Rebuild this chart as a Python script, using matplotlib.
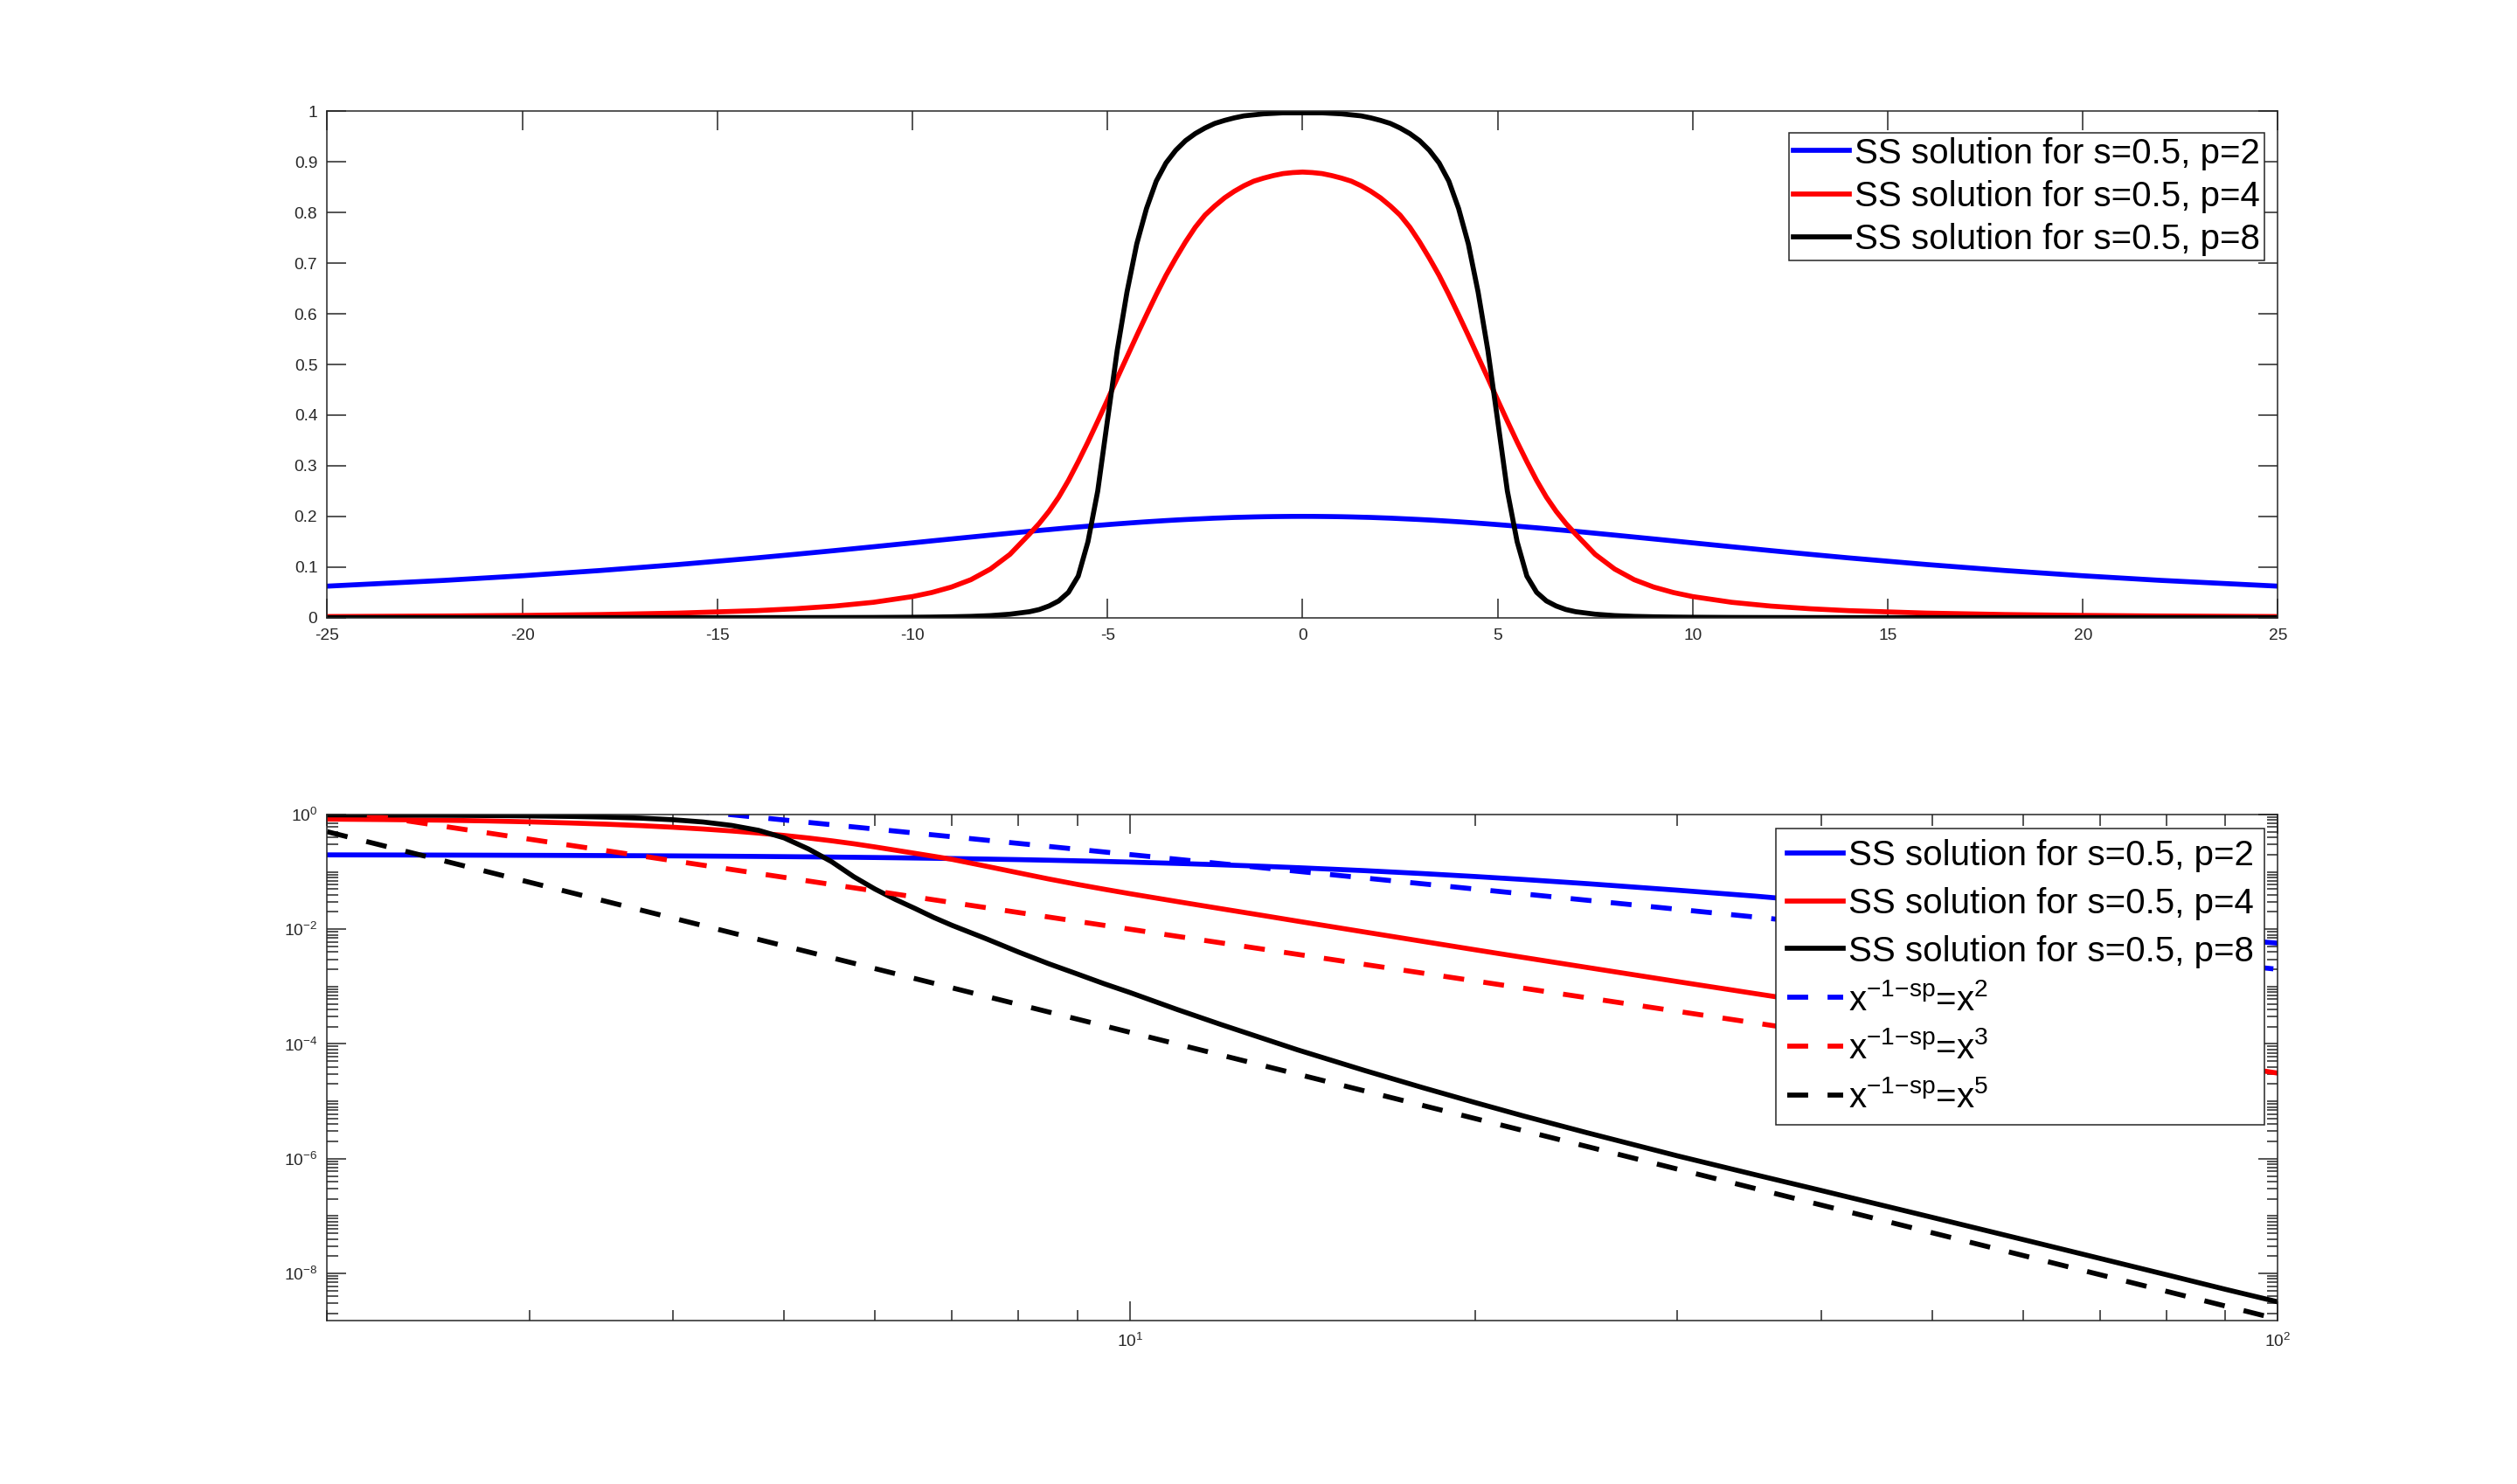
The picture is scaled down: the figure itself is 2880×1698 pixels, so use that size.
import matplotlib
matplotlib.use('Agg')
import matplotlib.pyplot as plt
from matplotlib.ticker import FixedLocator, LogLocator, NullFormatter

plt.rcParams['font.family'] = ['Liberation Sans', 'DejaVu Sans']
plt.rcParams['mathtext.fontset'] = 'custom'
plt.rcParams['mathtext.rm'] = 'Liberation Sans'
plt.rcParams['mathtext.it'] = 'Liberation Sans'
plt.rcParams['axes.unicode_minus'] = False

# positive half of the grid (solutions are even in x)
x_pos = [0, 0.25, 0.5, 0.75, 1, 1.25, 1.5, 1.75, 2, 2.25, 2.5, 2.75, 3, 3.25,
         3.5, 3.75, 4, 4.25, 4.5, 4.75, 5, 5.25, 5.5, 5.75, 6, 6.25, 6.5, 6.75,
         7, 7.5, 8, 8.5, 9, 9.5, 10, 11, 12, 13, 14, 16, 18, 20, 22, 25, 30,
         35, 40, 50, 60, 70, 80, 90, 100]

u_p2 = [0.2000, 0.19996, 0.1998, 0.1996, 0.1993, 0.1989, 0.1984, 0.1979, 0.1972,
        0.1965, 0.1956, 0.1947, 0.1938, 0.1928, 0.1917, 0.1905, 0.1893, 0.1880,
        0.1866, 0.1852, 0.1837, 0.1822, 0.1806, 0.1790, 0.1774, 0.1757, 0.1739,
        0.1722, 0.1704, 0.1667, 0.1630, 0.1592, 0.1554, 0.1516, 0.1477, 0.1400,
        0.1324, 0.1251, 0.1180, 0.1049, 0.0931, 0.0827, 0.0736, 0.0622, 0.0478,
        0.0378, 0.0300, 0.0204, 0.0145, 0.0110, 0.0085, 0.0068, 0.0057]

u_p4 = [0.880, 0.879, 0.877, 0.873, 0.868, 0.862, 0.853, 0.842, 0.829, 0.813,
        0.795, 0.771, 0.742, 0.710, 0.676, 0.638, 0.598, 0.557, 0.515, 0.473,
        0.430, 0.388, 0.347, 0.308, 0.271, 0.238, 0.210, 0.186, 0.165, 0.125,
        0.096, 0.075, 0.0604, 0.0497, 0.0416, 0.0303, 0.0228, 0.0176, 0.0138,
        0.00896, 0.00613, 0.00437, 0.00323, 0.00216, 0.00122, 7.58e-4, 5.03e-4,
        2.54e-4, 1.46e-4, 9.1e-5, 6.08e-5, 4.26e-5, 3.1e-5]

u_p8 = [0.997, 0.997, 0.997, 0.996, 0.995, 0.993, 0.991, 0.987, 0.982, 0.976,
        0.967, 0.956, 0.942, 0.923, 0.898, 0.862, 0.808, 0.738, 0.643, 0.528,
        0.390, 0.250, 0.150, 0.082, 0.050, 0.033, 0.023, 0.016, 0.0117, 6.8e-3,
        4.0e-3, 2.5e-3, 1.66e-3, 1.12e-3, 7.9e-4, 3.98e-4, 2.19e-4, 1.29e-4,
        7.9e-5, 3.47e-5, 1.73e-5, 9.5e-6, 5.6e-6, 2.85e-6, 1.12e-6, 5.3e-7,
        2.8e-7, 9.5e-8, 3.9e-8, 1.83e-8, 9.5e-9, 5.3e-9, 3.2e-9]

# reference power laws x^(-1-sp)
dash_x = [2, 100]
dash_p2 = [5.0, 2.0e-3]
dash_p4 = [1.25, 1.0e-5]
dash_p8 = [0.5, 1.6e-9]

labels_ss = ['SS solution for s=0.5, p=2', 'SS solution for s=0.5, p=4',
             'SS solution for s=0.5, p=8']
labels_tail = [r'x$^{\mathregular{-1{-}sp}}$=x$^{\mathregular{2}}$',
               r'x$^{\mathregular{-1{-}sp}}$=x$^{\mathregular{3}}$',
               r'x$^{\mathregular{-1{-}sp}}$=x$^{\mathregular{5}}$']

top_xticks = [-25, -20, -15, -10, -5, 0, 5, 10, 15, 20, 25]
top_yticks = [0, 0.1, 0.2, 0.3, 0.4, 0.5, 0.6, 0.7, 0.8, 0.9, 1]
top_ylabels = ['0', '0.1', '0.2', '0.3', '0.4', '0.5', '0.6', '0.7', '0.8', '0.9', '1']
bot_yticks = [1e-8, 1e-6, 1e-4, 1e-2, 1]
bot_xticks = [10, 100]

colors = ['#0000ff', '#ff0000', '#000000']
curves = [u_p2, u_p4, u_p8]
dashes = [dash_p2, dash_p4, dash_p8]

# mirror the positive half for the symmetric top panel
keep = [i for i, v in enumerate(x_pos) if v <= 25]
x_full = [-x_pos[i] for i in reversed(keep[1:])] + [x_pos[i] for i in keep]

fig = plt.figure(figsize=(14.4, 8.49), dpi=200)
ax1 = fig.add_axes([0.13, 0.5838, 0.775, 0.3412])
ax2 = fig.add_axes([0.13, 0.11, 0.775, 0.3412])

lw = 2.05
gray = '0.15'

for u, c, lab in zip(curves, colors, labels_ss):
    y_full = [u[i] for i in reversed(keep[1:])] + [u[i] for i in keep]
    ax1.plot(x_full, y_full, color=c, lw=lw, label=lab)

ax1.set_xlim(-25, 25)
ax1.set_ylim(0, 1)
ax1.set_xticks(top_xticks)
ax1.set_xticklabels([str(t) for t in top_xticks])
ax1.set_yticks(top_yticks)
ax1.set_yticklabels(top_ylabels)

for u, c, lab in zip(curves, colors, labels_ss):
    ax2.plot(x_pos[1:], u[1:], color=c, lw=lw, label=lab)
for d, c, lab in zip(dashes, colors, labels_tail):
    ax2.plot(dash_x, d, color=c, lw=lw, ls=(0, (4.2, 3.9)), label=lab)

ax2.set_xscale('log')
ax2.set_yscale('log')
ax2.set_xlim(2, 100)
ax2.set_ylim(1.5e-9, 1)
ax2.xaxis.set_major_locator(FixedLocator(bot_xticks))
ax2.xaxis.set_minor_locator(LogLocator(base=10, subs=[2, 3, 4, 5, 6, 7, 8, 9]))
ax2.xaxis.set_minor_formatter(NullFormatter())
ax2.yaxis.set_major_locator(FixedLocator(bot_yticks))
ax2.yaxis.set_minor_locator(LogLocator(base=10, subs=[1, 2, 3, 4, 5, 6, 7, 8, 9], numticks=30))
ax2.yaxis.set_minor_formatter(NullFormatter())

for ax in (ax1, ax2):
    for s in ax.spines.values():
        s.set_color(gray)
        s.set_linewidth(0.55)
    ax.tick_params(which='both', direction='in', top=True, right=True,
                   colors=gray, width=0.55, labelsize=6.9)
    ax.tick_params(which='major', length=7.9)
    ax.tick_params(which='minor', length=4.5)
    ax.tick_params(axis='y', pad=4)
ax1.tick_params(axis='x', pad=4.5)
ax2.tick_params(axis='x', pad=5.0)

leg_kw = dict(loc='upper right', fontsize=14.5, borderaxespad=0,
              handlelength=1.6, handletextpad=0.15,
              fancybox=False, framealpha=1, edgecolor=gray)
l1 = ax1.legend(bbox_to_anchor=(0.9931, 0.958), borderpad=0.12,
                labelspacing=0.285, **leg_kw)
l2 = ax2.legend(bbox_to_anchor=(0.9931, 0.9727), borderpad=0.3,
                labelspacing=0.42, **leg_kw)
for l in (l1, l2):
    l.get_frame().set_linewidth(0.55)

fig.savefig('out.png', dpi=200)
